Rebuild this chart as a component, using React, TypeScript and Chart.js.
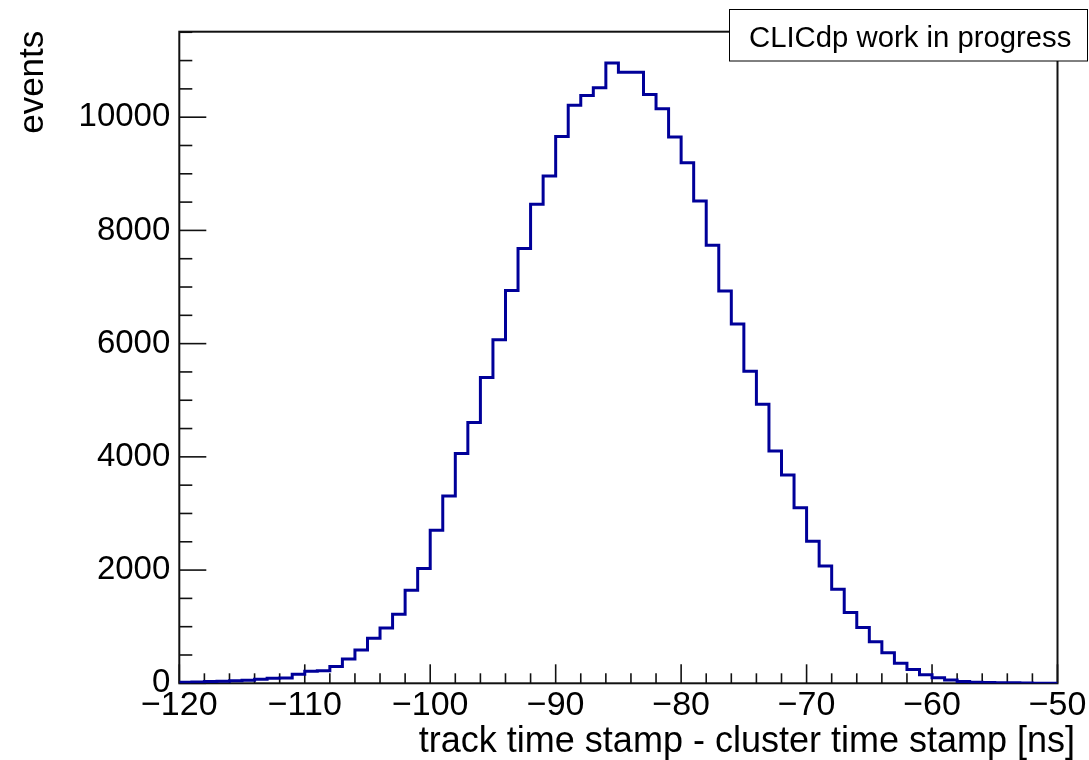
import React, { useEffect, useRef } from "react";
import { Chart, registerables } from "chart.js";

Chart.register(...registerables);

// Histogram bins: lower edges (ns), 1 ns wide, from -120 to -50
const binLow: number[] = [
  -120, -119, -118, -117, -116, -115, -114, -113, -112, -111,
  -110, -109, -108, -107, -106, -105, -104, -103, -102, -101,
  -100, -99, -98, -97, -96, -95, -94, -93, -92, -91,
  -90, -89, -88, -87, -86, -85, -84, -83, -82, -81,
  -80, -79, -78, -77, -76, -75, -74, -73, -72, -71,
  -70, -69, -68, -67, -66, -65, -64, -63, -62, -61,
  -60, -59, -58, -57, -56, -55, -54, -53, -52, -51,
];
const xUpperEdge = -50;

// events per bin
const counts: number[] = [
  20, 25, 30, 35, 45, 55, 70, 90, 95, 160,
  215, 220, 295, 430, 590, 795, 975, 1220, 1645, 2030,
  2705, 3310, 4060, 4605, 5400, 6070, 6940, 7680, 8460, 8960,
  9660, 10210, 10385, 10520, 10955, 10795, 10795, 10400, 10150, 9650,
  9195, 8520, 7740, 6930, 6345, 5510, 4930, 4105, 3680, 3100,
  2510, 2070, 1660, 1250, 985, 735, 540, 355, 245, 150,
  100, 60, 30, 20, 15, 10, 8, 5, 3, 2,
];

const xMajorTicks: number[] = [-120, -110, -100, -90, -80, -70, -60, -50];
const xMinorTicks: number[] = [
  -118, -116, -114, -112, -108, -106, -104, -102, -98, -96, -94, -92,
  -88, -86, -84, -82, -78, -76, -74, -72, -68, -66, -64, -62, -58, -56, -54, -52,
];
const yMajorTicks: number[] = [0, 2000, 4000, 6000, 8000, 10000];
const yMinorTicks: number[] = [
  500, 1000, 1500, 2500, 3000, 3500, 4500, 5000, 5500, 6500, 7000, 7500,
  8500, 9000, 9500, 10500, 11000, 11500,
];
const yMax = 11510;

const xTitle = "track time stamp - cluster time stamp [ns]";
const yTitle = "events";
const tagText = "CLICdp work in progress";

const FONT = '"Liberation Sans", Arial, sans-serif';

const fmtX = (v: number) => (v < 0 ? "\u2212" + Math.abs(v) : String(v));

const rootStyle = {
  id: "rootStyle",
  beforeDatasetsDraw(chart: any) {
    const { ctx, chartArea: a, scales } = chart;
    const xs = scales.x;
    const ys = scales.y;
    ctx.save();
    ctx.strokeStyle = "#111";
    ctx.lineWidth = 1.6;
    const drawX = (v: number, len: number) => {
      const px = xs.getPixelForValue(v);
      ctx.beginPath();
      ctx.moveTo(px, a.bottom);
      ctx.lineTo(px, a.bottom - len);
      ctx.stroke();
    };
    const drawY = (v: number, len: number) => {
      const py = ys.getPixelForValue(v);
      ctx.beginPath();
      ctx.moveTo(a.left, py);
      ctx.lineTo(a.left + len, py);
      ctx.stroke();
    };
    xMajorTicks.forEach((v) => drawX(v, 19));
    xMinorTicks.forEach((v) => drawX(v, 10));
    yMajorTicks.forEach((v) => drawY(v, 27));
    yMinorTicks.forEach((v) => drawY(v, 13));
    ctx.lineWidth = 2;
    ctx.strokeRect(a.left, a.top, a.right - a.left, a.bottom - a.top);
    ctx.restore();
  },
  afterDraw(chart: any) {
    const { ctx, chartArea: a } = chart;
    ctx.save();
    ctx.fillStyle = "#000";
    ctx.font = `36px ${FONT}`;
    ctx.textBaseline = "alphabetic";
    ctx.textAlign = "right";
    ctx.fillText(xTitle, 1075, 752);
    ctx.save();
    ctx.font = `35px ${FONT}`;
    ctx.translate(43, a.top - 1);
    ctx.rotate(-Math.PI / 2);
    ctx.textAlign = "right";
    ctx.fillText(yTitle, 0, 0);
    ctx.restore();
    // tag box
    ctx.fillStyle = "#fff";
    ctx.fillRect(729.5, 9.5, 358, 51.5);
    ctx.strokeStyle = "#000";
    ctx.lineWidth = 1;
    ctx.strokeRect(729.5, 9.5, 358, 51.5);
    ctx.fillStyle = "#000";
    ctx.font = `29.3px ${FONT}`;
    ctx.textAlign = "left";
    ctx.fillText(tagText, 749, 47);
    ctx.restore();
  },
};

export default function App() {
  const ref = useRef<HTMLCanvasElement | null>(null);
  useEffect(() => {
    if (!ref.current) return;
    const pts = binLow.map((x, i) => ({ x, y: counts[i] }));
    pts.push({ x: xUpperEdge, y: counts[counts.length - 1] });
    const chart = new Chart(ref.current, {
      type: "line",
      data: {
        datasets: [
          {
            data: pts,
            borderColor: "#000099",
            borderWidth: 3,
            pointRadius: 0,
            stepped: "before",
            fill: false,
            tension: 0,
          },
        ],
      },
      options: {
        animation: false,
        responsive: false,
        devicePixelRatio: 1,
        layout: { padding: { top: 31.7, right: 31.5, bottom: 0, left: 0 } },
        plugins: { legend: { display: false }, tooltip: { enabled: false } },
        scales: {
          x: {
            type: "linear",
            min: binLow[0],
            max: xUpperEdge,
            grid: { display: false, drawTicks: false },
            border: { display: false },
            afterBuildTicks: (s: any) => {
              s.ticks = xMajorTicks.map((v) => ({ value: v }));
            },
            afterFit: (s: any) => {
              s.height = 760 - 683.3;
            },
            ticks: {
              autoSkip: false,
              maxRotation: 0,
              minRotation: 0,
              padding: 2,
              color: "#000",
              font: { family: FONT, size: 34 },
              callback: (v: any) => fmtX(Number(v)),
            },
          },
          y: {
            type: "linear",
            min: 0,
            max: yMax,
            grid: { display: false, drawTicks: false },
            border: { display: false },
            afterBuildTicks: (s: any) => {
              s.ticks = yMajorTicks.map((v) => ({ value: v }));
            },
            afterFit: (s: any) => {
              s.width = 179.3;
            },
            ticks: {
              autoSkip: false,
              padding: 9,
              color: "#000",
              font: { family: FONT, size: 33 },
              callback: (v: any) => String(v),
            },
          },
        },
      },
      plugins: [rootStyle],
    });
    return () => chart.destroy();
  }, []);
  return (
    <div style={{ position: "absolute", left: 0, top: 0, width: 1089, height: 760, background: "#fff" }}>
      <canvas ref={ref} width={1089} height={760} />
    </div>
  );
}
